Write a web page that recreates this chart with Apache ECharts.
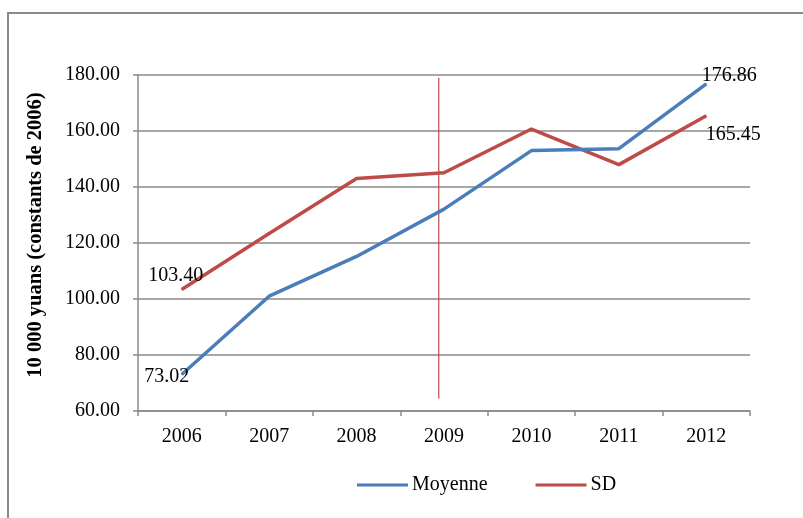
<!DOCTYPE html>
<html>
<head>
<meta charset="utf-8">
<script src="https://cdn.jsdelivr.net/npm/echarts@6/dist/echarts.min.js"></script>
<style>
html,body{margin:0;padding:0;background:#fff;}
#wrap{position:relative;width:803px;height:518px;overflow:hidden;}
#chart{position:absolute;left:0;top:0;width:803px;height:518px;}
#frame{position:absolute;left:7px;top:12px;width:900px;height:600px;border:2px solid #8a8a8a;pointer-events:none;}
</style>
</head>
<body>
<div id="wrap"><div id="frame"></div><div id="chart"></div></div>
<script>
const categories = ['2006','2007','2008','2009','2010','2011','2012'];
const moyenne = [73.02, 101.0, 115.2, 132.1, 153.0, 153.7, 176.86];
const sd = [103.40, 123.4, 143.0, 145.1, 160.7, 148.0, 165.45];
const yTicks = {min: 60, max: 180, interval: 20};
const refLineX = 3.44;          // position of vertical marker in category units (0..7)
const refLineY = [64.4, 179];   // vertical extent of marker in axis values

const FONT = '"Liberation Serif", "Times New Roman", serif';

function withEndLabels(values, firstOffset, lastOffset) {
  return values.map((v, i) => {
    if (i === 0 || i === values.length - 1) {
      return {
        value: v,
        label: {
          show: true,
          position: 'inside',
          align: 'center',
          verticalAlign: 'middle',
          offset: i === 0 ? firstOffset : lastOffset,
          formatter: (p) => Number(p.value).toFixed(2),
          color: '#000',
          fontFamily: FONT,
          fontSize: 20
        }
      };
    }
    return v;
  });
}

const chart = echarts.init(document.getElementById('chart'), null, {renderer: 'canvas'});
chart.setOption({
  backgroundColor: 'transparent',
  animation: false,
  textStyle: {fontFamily: FONT},
  grid: {left: 138, right: 53, top: 75, bottom: 107, containLabel: false},
  legend: {
    data: ['Moyenne', 'SD'],
    left: 352,
    top: 470,
    icon: 'rect',
    itemWidth: 51,
    itemHeight: 3,
    itemGap: 48,
    textStyle: {fontFamily: FONT, fontSize: 20, color: '#000', padding: [0, 0, 0, -1]}
  },
  xAxis: [{
    type: 'category',
    data: categories,
    boundaryGap: true,
    axisLine: {show: true, lineStyle: {color: '#8a8a8a', width: 1.5}},
    axisTick: {show: true, alignWithLabel: false, length: 5, lineStyle: {color: '#8a8a8a', width: 1.5}},
    axisLabel: {color: '#000', fontFamily: FONT, fontSize: 20, margin: 16},
    splitLine: {show: false}
  }, {
    type: 'value',
    min: 0, max: 7,
    show: false
  }],
  yAxis: {
    type: 'value',
    min: yTicks.min, max: yTicks.max, interval: yTicks.interval,
    name: '10 000 yuans (constants de 2006)',
    nameLocation: 'middle',
    nameGap: 92,
    nameRotate: 90,
    nameTextStyle: {fontFamily: FONT, fontSize: 20.5, fontWeight: 'bold', color: '#000', padding: [0, 0, 0, 16]},
    axisLine: {show: true, lineStyle: {color: '#8a8a8a', width: 1.5}},
    axisTick: {show: true, length: 5, lineStyle: {color: '#8a8a8a', width: 1.5}},
    axisLabel: {color: '#000', fontFamily: FONT, fontSize: 20, margin: 18,
      formatter: (v) => v.toFixed(2)},
    splitLine: {show: true, lineStyle: {color: '#8a8a8a', width: 1.5}}
  },
  series: [{
    name: 'Moyenne',
    type: 'line',
    data: withEndLabels(moyenne, [-15, 2], [23, -8]),
    symbol: 'circle',
    symbolSize: 1,
    showSymbol: true,
    itemStyle: {color: '#4a7ebb'},
    lineStyle: {color: '#4a7ebb', width: 3.5},
    z: 3
  }, {
    name: 'SD',
    type: 'line',
    data: withEndLabels(sd, [-6, -14], [27, 19]),
    symbol: 'circle',
    symbolSize: 1,
    showSymbol: true,
    itemStyle: {color: '#be4b48'},
    lineStyle: {color: '#be4b48', width: 3.5},
    z: 2
  }, {
    name: 'marker',
    type: 'line',
    xAxisIndex: 1,
    data: [[refLineX, refLineY[0]], [refLineX, refLineY[1]]],
    symbol: 'none',
    silent: true,
    lineStyle: {color: '#be4b48', width: 1.2},
    z: 1
  }]
});
</script>
</body>
</html>
